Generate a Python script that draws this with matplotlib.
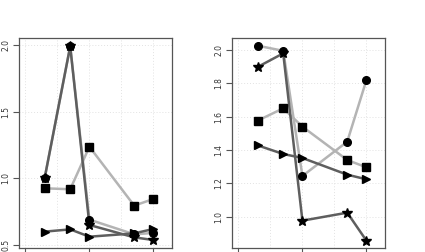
import matplotlib
matplotlib.use("Agg")
import matplotlib.pyplot as plt

x = [3, 7, 10, 17, 20]

# Left panel
left_circle = [1.00, 1.99, 0.69, 0.58, 0.59]
left_star = [1.00, 1.99, 0.65, 0.557, 0.537]
left_square = [0.925, 0.918, 1.237, 0.795, 0.845]
left_triangle = [0.60, 0.617, 0.562, 0.587, 0.62]

# Right panel
right_circle = [2.026, 1.995, 1.244, 1.45, 1.82]
right_star = [1.898, 1.98, 0.976, 1.024, 0.856]
right_square = [1.576, 1.65, 1.54, 1.34, 1.296]
right_triangle = [1.428, 1.376, 1.352, 1.252, 1.224]

left_yticks = [0.5, 1.0, 1.5, 2.0]
right_yticks = [1.0, 1.2, 1.4, 1.6, 1.8, 2.0]
xticks = [0, 10, 20]
xgrid = [0, 5, 10, 15, 20]

DARK = "#5e5e5e"
LIGHT = "#b4b4b4"
W, H = 425, 252

fig = plt.figure(figsize=(W / 100, H / 100), dpi=100)


def panel(left_px, lines, markers, ylim, yticks):
    ax = fig.add_axes([left_px / W, (H - 247.5) / H, 153 / W, 209.5 / H])
    ax.set_xlim(-1.0, 22.9)
    ax.set_ylim(*ylim)
    for gx in xgrid:
        ax.axvline(gx, color="#e2e2e2", lw=0.7, ls=(0, (1, 2)), zorder=0)
    for gy in yticks:
        ax.axhline(gy, color="#e2e2e2", lw=0.7, ls=(0, (1, 2)), zorder=0)
    for ys, color in lines:
        ax.plot(x, ys, color=color, lw=1.8, zorder=2)
    for ys, marker, ms in markers:
        ax.plot(x, ys, ls="none", marker=marker, ms=ms, color="black", zorder=3)
    ax.set_xticks(xticks)
    ax.set_xticklabels([])
    ax.set_yticks(yticks)
    ax.set_yticklabels([f"{v:.1f}" for v in yticks], rotation=90, va="center",
                       fontsize=5.5, color="#333333")
    ax.tick_params(axis="y", direction="out", length=4, width=0.8, color="#555555", pad=2)
    ax.tick_params(axis="x", direction="out", length=5, width=0.8, color="#555555")
    for s in ax.spines.values():
        s.set_color("#555555")
        s.set_linewidth(0.9)
    return ax


panel(19,
      [(left_square, LIGHT), (left_circle, LIGHT), (left_triangle, DARK), (left_star, DARK)],
      [(left_square, "s", 5.5), (left_triangle, ">", 5.5), (left_star, "*", 7), (left_circle, "o", 5.5)],
      (0.481, 2.0525), left_yticks)

panel(232,
      [(right_square, LIGHT), (right_circle, LIGHT), (right_triangle, DARK), (right_star, DARK)],
      [(right_square, "s", 5.5), (right_triangle, ">", 5.5), (right_star, "*", 7), (right_circle, "o", 5.5)],
      (0.815, 2.072), right_yticks)

fig.savefig("out.png", dpi=100)
